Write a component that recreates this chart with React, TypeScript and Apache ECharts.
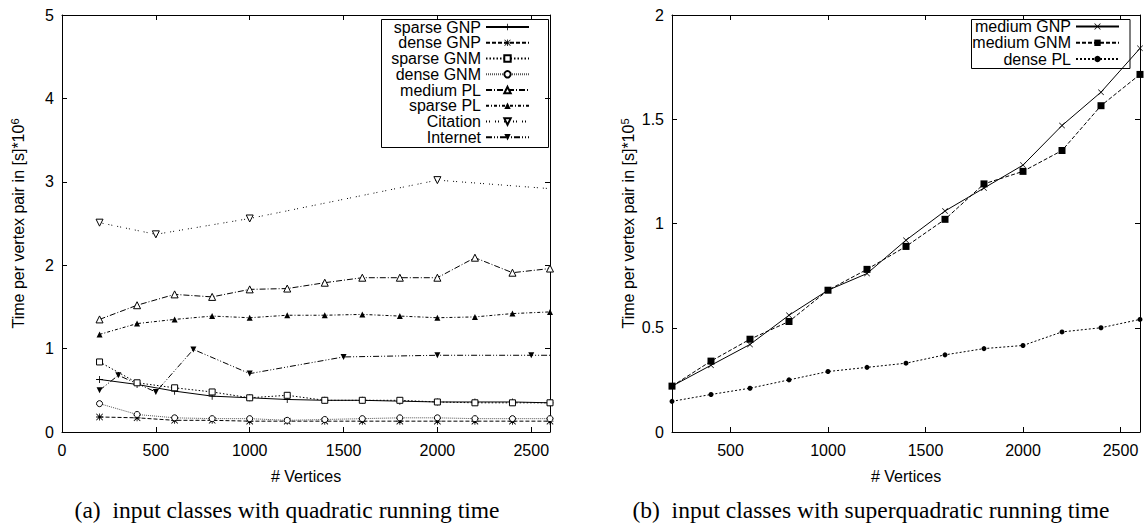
import React, { useEffect, useRef } from 'react';
import * as echarts from 'echarts';

// ---------- data ----------
const xSteps = [200, 400, 600, 800, 1000, 1200, 1400, 1600, 1800, 2000, 2200, 2400, 2600];

const sparseGNP = [0.63, 0.57, 0.49, 0.43, 0.41, 0.39, 0.38, 0.38, 0.37, 0.36, 0.36, 0.36, 0.35];
const denseGNP = [0.18, 0.17, 0.14, 0.14, 0.13, 0.13, 0.13, 0.13, 0.13, 0.13, 0.13, 0.13, 0.13];
const sparseGNM = [0.84, 0.59, 0.53, 0.48, 0.41, 0.44, 0.38, 0.38, 0.38, 0.36, 0.35, 0.35, 0.35];
const denseGNM = [0.34, 0.21, 0.17, 0.16, 0.16, 0.14, 0.15, 0.16, 0.17, 0.17, 0.16, 0.16, 0.16];
const mediumPL = [1.35, 1.52, 1.65, 1.62, 1.71, 1.72, 1.79, 1.85, 1.85, 1.85, 2.09, 1.91, 1.96];
const sparsePL = [1.17, 1.3, 1.35, 1.39, 1.37, 1.4, 1.4, 1.41, 1.39, 1.37, 1.38, 1.42, 1.44];
const citationX = [200, 500, 1000, 2000, 3000];
const citation = [2.51, 2.37, 2.56, 3.02, 2.85];
const internetX = [200, 300, 500, 700, 1000, 1500, 2000, 2500, 3000];
const internet = [0.5, 0.68, 0.48, 0.99, 0.7, 0.9, 0.92, 0.92, 0.92];

const mediumGNP = [0.22, 0.32, 0.42, 0.56, 0.68, 0.76, 0.92, 1.06, 1.17, 1.28, 1.47, 1.63, 1.84];
const mediumGNM = [0.22, 0.34, 0.445, 0.53, 0.68, 0.78, 0.89, 1.02, 1.19, 1.25, 1.35, 1.565, 1.715];
const densePL = [0.147, 0.18, 0.21, 0.25, 0.29, 0.31, 0.33, 0.37, 0.4, 0.415, 0.48, 0.5, 0.54];

const leftXTicks = [0, 500, 1000, 1500, 2000, 2500];
const rightXTicks = [500, 1000, 1500, 2000, 2500];

const leftNames = ['sparse GNP', 'dense GNP', 'sparse GNM', 'dense GNM', 'medium PL', 'sparse PL', 'Citation', 'Internet'];
const rightNames = ['medium GNP', 'medium GNM', 'dense PL'];

// ---------- styles ----------
const F = '"Liberation Sans", Arial, Helvetica, sans-serif';
const SERIF = '"Liberation Serif", "Times New Roman", serif';
const PLUS = 'M0,4.4H10V5.6H0Z M4.4,0H5.6V10H4.4Z';
const XSHAPE = 'M0.8,0L5,4.2L9.2,0L10,0.8L5.8,5L10,9.2L9.2,10L5,5.8L0.8,10L0,9.2L4.2,5L0,0.8Z';
const SYM_PLUS = 'path://' + PLUS;
const SYM_X = 'path://' + XSHAPE;
const SYM_STAR = 'path://' + XSHAPE + ' ' + PLUS;
const SYM_TDOWN = 'path://M0,0L10,0L5,8.66Z';

const plain = (v: number) => String(v);

function mkSeries(name: string, xs: number[], ys: number[], axis: number, symbol: string, size: number, open: boolean, dash: any, lineColor = '#000') {
  return {
    type: 'line',
    name,
    xAxisIndex: axis,
    yAxisIndex: axis,
    data: xs.map((x, i) => [x, ys[i]]),
    symbol,
    symbolSize: size,
    showSymbol: true,
    clip: true,
    itemStyle: open
      ? { color: '#fff', borderColor: '#000', borderWidth: 1 }
      : { color: '#000', borderWidth: 0 },
    lineStyle: { color: lineColor, width: 1, type: dash },
    emphasis: { disabled: true },
    animation: false,
  };
}

function xAxes(grid: number, min: number, max: number, ticks: number[]) {
  const base = {
    type: 'value',
    gridIndex: grid,
    min,
    max,
    splitLine: { show: false },
    axisLine: { show: true, onZero: false, lineStyle: { color: '#000', width: 1 } },
    axisTick: { show: true, inside: true, length: 5, customValues: ticks, lineStyle: { color: '#000', width: 1 } },
  };
  return [
    {
      ...base,
      position: 'bottom',
      axisLabel: { show: true, customValues: ticks, formatter: plain, margin: 10, color: '#000', fontSize: 16, fontFamily: F },
      name: '# Vertices',
      nameLocation: 'middle',
      nameGap: 36,
      nameTextStyle: { color: '#000', fontSize: 16, fontFamily: F },
    },
    { ...base, position: 'top', axisLabel: { show: false } },
  ];
}

function yAxes(grid: number, max: number, interval: number, exp: string) {
  const base = {
    type: 'value',
    gridIndex: grid,
    min: 0,
    max,
    interval,
    splitLine: { show: false },
    axisLine: { show: true, onZero: false, lineStyle: { color: '#000', width: 1 } },
    axisTick: { show: true, inside: true, length: 5, lineStyle: { color: '#000', width: 1 } },
  };
  return [
    {
      ...base,
      position: 'left',
      axisLabel: { show: true, formatter: plain, margin: 8, color: '#000', fontSize: 16, fontFamily: F },
      name: 'Time per vertex pair in [s]*10{sup|' + exp + '}',
      nameLocation: 'middle',
      nameGap: 34,
      nameTextStyle: {
        color: '#000',
        fontSize: 16,
        fontFamily: F,
        rich: { sup: { fontSize: 11, fontFamily: F, color: '#000', verticalAlign: 'bottom', padding: [0, 0, 8, 0] } },
      },
    },
    { ...base, position: 'right', axisLabel: { show: false } },
  ];
}

function mkLegend(name: string, right: number, centerY: number) {
  return {
    data: [name],
    orient: 'horizontal',
    align: 'right',
    right,
    top: centerY - 9,
    padding: 0,
    itemWidth: 43,
    itemHeight: 8,
    selectedMode: false,
    textStyle: { color: '#000', fontSize: 16, fontFamily: F },
  };
}

export default function App() {
  const ref = useRef<HTMLDivElement>(null);
  useEffect(() => {
    if (!ref.current) return;
    const chart = echarts.init(ref.current, null, { renderer: 'svg' });
    const x = xAxes(0, 0, 2600, leftXTicks).concat(xAxes(1, 200, 2600, rightXTicks));
    const y = yAxes(0, 5, 1, '6').concat(yAxes(1, 2, 0.5, '5'));
    const series = [
      mkSeries('sparse GNP', xSteps, sparseGNP, 0, SYM_PLUS, 7, false, 'solid'),
      mkSeries('dense GNP', xSteps, denseGNP, 0, SYM_STAR, 7, false, [4, 2]),
      mkSeries('sparse GNM', xSteps, sparseGNM, 0, 'rect', 6, true, [1.5, 2]),
      mkSeries('dense GNM', xSteps, denseGNM, 0, 'circle', 6, true, [1, 1], '#555'),
      mkSeries('medium PL', xSteps, mediumPL, 0, 'triangle', 7, true, [6, 2, 1, 2]),
      mkSeries('sparse PL', xSteps, sparsePL, 0, 'triangle', 6, false, [3, 2, 1, 2]),
      mkSeries('Citation', citationX, citation, 0, SYM_TDOWN, 7, true, [1, 2, 1, 5]),
      mkSeries('Internet', internetX, internet, 0, SYM_TDOWN, 6, false, [6, 2, 1, 2, 1, 2]),
      mkSeries('medium GNP', xSteps, mediumGNP, 2, SYM_X, 6, false, 'solid'),
      mkSeries('medium GNM', xSteps, mediumGNM, 2, 'rect', 7, false, [4, 2]),
      mkSeries('dense PL', xSteps, densePL, 2, 'circle', 5, false, [2, 2]),
    ];
    const legends = [
      ...leftNames.map((n, i) => mkLegend(n, 617, 28 + i * 15.76)),
      ...rightNames.map((n, i) => mkLegend(n, 27, 27.5 + i * 16.3)),
    ];
    chart.setOption({
      animation: false,
      backgroundColor: '#fff',
      grid: [
        { left: 62, right: 597, top: 15, bottom: 92, containLabel: false },
        { left: 672, right: 7, top: 15, bottom: 92, containLabel: false },
      ],
      xAxis: x,
      yAxis: y,
      legend: legends,
      series,
      graphic: [
        { type: 'rect', shape: { x: 381.5, y: 19.5, width: 167, height: 128 }, style: { fill: 'none', stroke: '#000', lineWidth: 1 }, z: 10 },
        { type: 'rect', shape: { x: 971.5, y: 19.5, width: 158.5, height: 49 }, style: { fill: 'none', stroke: '#000', lineWidth: 1 }, z: 10 },
        {
          type: 'text', x: 287, y: 510,
          style: { text: '(a)\u00a0\u00a0input classes with quadratic running time', fontSize: 23.5, fontFamily: SERIF, fill: '#000', align: 'center', verticalAlign: 'middle' },
        },
        {
          type: 'text', x: 871, y: 510,
          style: { text: '(b)\u00a0\u00a0input classes with superquadratic running time', fontSize: 23.5, fontFamily: SERIF, fill: '#000', align: 'center', verticalAlign: 'middle' },
        },
      ],
    });
    return () => chart.dispose();
  }, []);
  return <div ref={ref} style={{ position: 'fixed', left: 0, top: 0, width: 1147, height: 524, background: '#fff' }} />;
}
